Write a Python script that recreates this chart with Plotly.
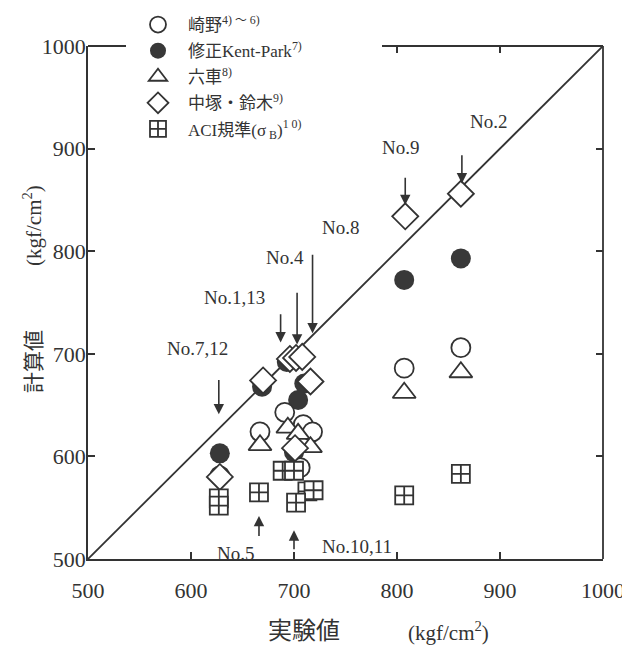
import plotly.graph_objects as go

# ---------------- data ----------------
# experimental value (x) and calculated value (y), kgf/cm2
sakino_x = [628, 667, 691, 709, 718, 706, 807, 862]
sakino_y = [581, 624, 643, 631, 624, 589, 686, 706]

kent_x = [628, 669, 693, 710, 704, 700, 807, 862]
kent_y = [603, 668, 692, 671, 655, 604, 772, 793]

muguruma_x = [667, 694, 704, 716, 807, 862]
muguruma_y = [611, 628, 622, 609, 662, 682]

nakatsuka_x = [628, 670, 696, 702, 708, 716, 701, 808, 862]
nakatsuka_y = [580, 674, 695, 696, 697, 673, 608, 834, 856]

aci_x = [627, 627, 666, 689, 700, 713, 719, 702, 807, 862]
aci_y = [559, 552, 565, 586, 586, 566, 567, 555, 562, 583]

diag = [500, 1000]
tick_vals = [500, 600, 700, 800, 900, 1000]
tick_text = ["500", "600", "700", "800", "900", "1000"]

series_names = [
    "崎野<sup>4) ～ 6)</sup>",
    "修正Kent-Park<sup>7)</sup>",
    "六車<sup>8)</sup>",
    "中塚・鈴木<sup>9)</sup>",
    "ACI規準(σ<sub> B</sub>)<sup>1 0)</sup>",
]

# specimen call-outs: label, arrow x, arrow head y, arrow tail y (kgf/cm2 scale)
callouts = [
    ("No.2", 863, 866, 895),
    ("No.9", 808, 845, 873),
    ("No.8", 718, 720, 798),
    ("No.4", 703, 709, 761),
    ("No.1,13", 687, 711, 740),
    ("No.7,12", 627, 641, 676),
    ("No.5", 666, 542, 521),
    ("No.10,11", 700, 528, 508),
]

# ---------------- layout geometry ----------------
# the page body adds an 8 px offset; positions below are in screen pixels
OFF = 8
W, H = 630 - OFF, 648 - OFF
SL, SR, ST, SB = 88, 603, 46, 559          # plot area on screen
L, R, T, B = SL - OFF, SR - OFF, ST - OFF, SB - OFF
INK = "#333333"
SERIF = "Liberation Serif, Times New Roman, Noto Sans CJK JP, serif"
JP = "Noto Sans CJK JP, Liberation Serif, sans-serif"


def px_x(px):
    return (px - SL) / (SR - SL)


def px_y(py):
    return (SB - py) / (SB - ST)


fig = go.Figure()

# 45-degree reference line
fig.add_trace(go.Scatter(x=diag, y=diag, mode="lines",
                         line=dict(color=INK, width=1.8),
                         showlegend=False, hoverinfo="skip"))

mk_line = dict(color=INK, width=1.8)
fig.add_trace(go.Scatter(x=kent_x, y=kent_y, mode="markers", name=series_names[1],
                         legendrank=2, legendgroup="b",
                         marker=dict(symbol="circle", size=20, color="#383838",
                                     line=dict(color="#383838", width=0))))
fig.add_trace(go.Scatter(x=sakino_x, y=sakino_y, mode="markers", name=series_names[0],
                         legendrank=1, legendgroup="a",
                         marker=dict(symbol="circle", size=19, color="white", line=mk_line)))
fig.add_trace(go.Scatter(x=muguruma_x, y=muguruma_y, mode="markers", name=series_names[2],
                         legendrank=3, legendgroup="c",
                         marker=dict(symbol="triangle-up", size=20, color="white", line=mk_line)))
fig.add_trace(go.Scatter(x=nakatsuka_x, y=nakatsuka_y, mode="markers", name=series_names[3],
                         legendrank=4, legendgroup="d",
                         marker=dict(symbol="diamond", size=20, color="white", line=mk_line)))
fig.add_trace(go.Scatter(x=aci_x, y=aci_y, mode="markers", name=series_names[4],
                         legendrank=5, legendgroup="e",
                         marker=dict(symbol="square-cross", size=18, color="white", line=mk_line)))

# invisible helper trace for top / right tick marks
fig.add_trace(go.Scatter(x=[None], y=[None], xaxis="x2", yaxis="y2",
                         showlegend=False, hoverinfo="skip"))

ann = []
for label, xv, yh, yt in callouts:
    ann.append(dict(x=xv, y=yh, ax=xv, ay=yt, xref="x", yref="y", axref="x", ayref="y",
                    text="", showarrow=True, arrowhead=2, arrowsize=1.3,
                    arrowwidth=1.6, arrowcolor=INK))

label_pos = {
    "No.2": (488, 121), "No.9": (400, 147), "No.8": (340, 227), "No.4": (285, 257),
    "No.1,13": (234, 297), "No.7,12": (197, 348), "No.5": (236, 553),
    "No.10,11": (357, 546),
}
for label, (lx, ly) in label_pos.items():
    ann.append(dict(x=px_x(lx), y=px_y(ly), xref="paper", yref="paper", text=label,
                    showarrow=False, font=dict(family=SERIF, size=19, color=INK),
                    xanchor="center", yanchor="middle"))

# axis titles
ann.append(dict(x=px_x(304), y=px_y(629), xref="paper", yref="paper", text="実験値",
                xanchor="center", yanchor="middle",
                showarrow=False, font=dict(family=JP, size=24, color=INK)))
ann.append(dict(x=px_x(448), y=px_y(631), xref="paper", yref="paper",
                text="(kgf/cm<sup>2</sup>)", xanchor="center", yanchor="middle",
                showarrow=False, font=dict(family=SERIF, size=21, color=INK)))
ann.append(dict(x=px_x(32), y=px_y(362), xref="paper", yref="paper", text="計算値",
                xanchor="center", yanchor="middle",
                textangle=-90, showarrow=False, font=dict(family=JP, size=21, color=INK)))
ann.append(dict(x=px_x(32), y=px_y(226), xref="paper", yref="paper",
                text="(kgf/cm<sup>2</sup>)", textangle=-90,
                xanchor="center", yanchor="middle",
                showarrow=False, font=dict(family=SERIF, size=21, color=INK)))

shapes = [
    # right frame
    dict(type="line", xref="paper", yref="paper", x0=1, x1=1, y0=0, y1=1,
         line=dict(color=INK, width=1.8)),
    # top frame (right part; the left part is interrupted by the legend)
    dict(type="line", xref="paper", yref="paper", x0=px_x(382), x1=1, y0=1, y1=1,
         line=dict(color=INK, width=1.8)),
    dict(type="line", xref="paper", yref="paper", x0=0, x1=px_x(126), y0=1, y1=1,
         line=dict(color=INK, width=1.8)),
]

axis_common = dict(range=[500, 1000], showgrid=False, zeroline=False,
                   ticks="inside", ticklen=7, tickwidth=1.6, tickcolor=INK)

fig.update_layout(
    width=W, height=H,
    margin=dict(l=L, r=W - R, t=T, b=H - B, pad=0, autoexpand=False),
    paper_bgcolor="white", plot_bgcolor="white",
    xaxis=dict(**axis_common, tickvals=tick_vals, ticktext=tick_text,
               showline=True, linewidth=1.8, linecolor=INK,
               ticklabelstandoff=11,
               tickfont=dict(family=SERIF, size=22, color=INK)),
    yaxis=dict(**axis_common, tickvals=tick_vals, ticktext=tick_text,
               showline=True, linewidth=1.8, linecolor=INK,
               ticklabelstandoff=-4,
               tickfont=dict(family=SERIF, size=22, color=INK)),
    xaxis2=dict(**axis_common, overlaying="x", side="top", tickvals=[800, 900],
                showticklabels=False, showline=False),
    yaxis2=dict(**axis_common, overlaying="y", side="right", tickvals=[600, 700, 800, 900],
                showticklabels=False, showline=False),
    legend=dict(x=px_x(128), y=px_y(7), xanchor="left", yanchor="top",
                bgcolor="rgba(255,255,255,0)", borderwidth=0,
                font=dict(family=SERIF, size=17, color=INK),
                itemwidth=50, tracegroupgap=1, traceorder="grouped"),
    annotations=ann,
    shapes=shapes,
)

fig.write_html("out.html")
